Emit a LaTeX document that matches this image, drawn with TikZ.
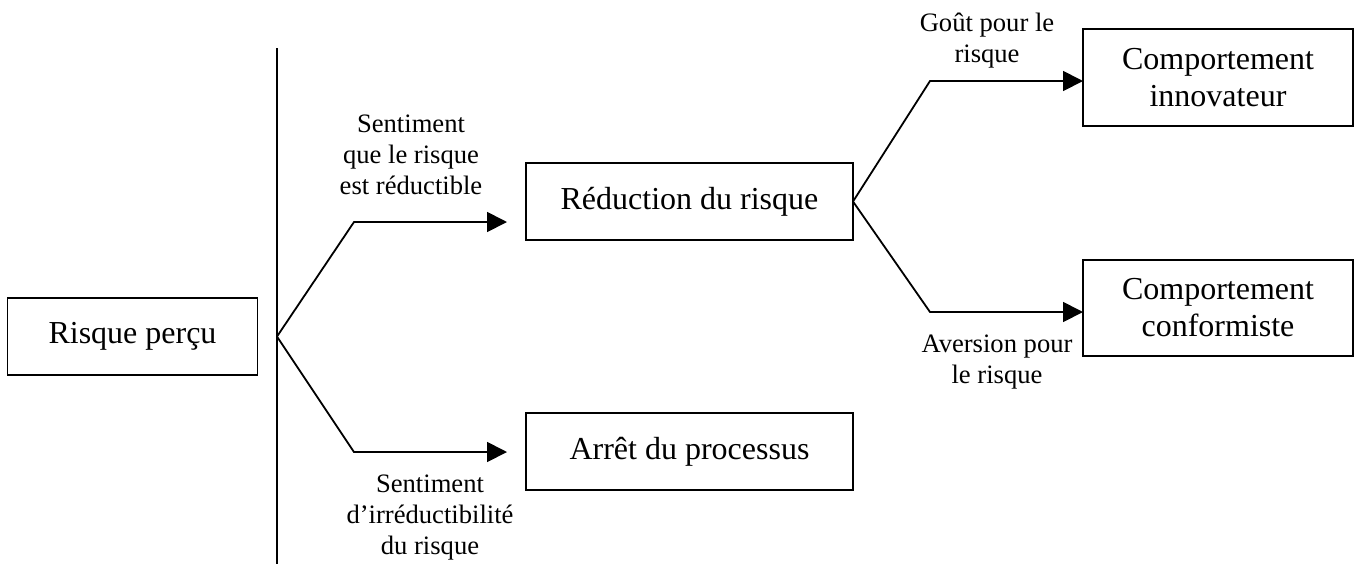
\documentclass[tikz,border=0pt]{standalone}
\usepackage{fontspec}
\setmainfont{Liberation Serif}
\usetikzlibrary{arrows.meta}

\tikzset{
  box/.style = {draw, line width=0.9pt, inner sep=0pt, outer sep=0pt, align=center,
    font=\fontsize{16}{18.5}\selectfont, minimum height=38.5pt},
  lab/.style = {align=center, font=\fontsize{13.3}{15.5}\selectfont},
  flow/.style = {line width=0.9pt, -{Triangle[length=10pt,width=10pt]}}
}

\begin{document}
\begin{tikzpicture}[x = 0.5pt, y = -0.5pt]
\useasboundingbox (0,0) rectangle (1360,564);
\node [box, minimum width=125pt] (percu) at (132.5,336.5) {Risque perçu};
\node [box, minimum width=163.5pt] (reduc) at (689.5,201.5) {Réduction du risque};
\node [box, minimum width=163.5pt] (arret) at (689.5,451.5) {Arrêt du processus};
\node [box, minimum width=135pt, minimum height=48.5pt] (innov) at (1218,77.5) {Comportement\\innovateur};
\node [box, minimum width=135pt, minimum height=48pt] (conf) at (1218,308) {Comportement\\conformiste};
\coordinate (top) at (277,48);
\coordinate (bottom) at (277,564);
\coordinate (split) at (top |- percu.east);
\coordinate (bendA) at (354,222);
\coordinate (bendB) at (354,452);
\coordinate (bendC) at (930,81);
\coordinate (bendD) at (930,312);
\draw [line width=0.9pt] (top) -- (bottom);
\draw [flow, shorten >=9.5pt] (split) -- (bendA) -- (bendA -| reduc.west);
\draw [flow, shorten >=9.5pt] (split) -- (bendB) -- (bendB -| arret.west);
\draw [flow] (reduc.east) -- (bendC) -- (bendC -| innov.west);
\draw [flow] (reduc.east) -- (bendD) -- (bendD -| conf.west);
\node [lab] (labA) at (411,155) {Sentiment\\que le risque\\est réductible};
\node [lab] (labB) at (430,518) {Sentiment\\d’irréductibilité\\du risque};
\node [lab] (labC) at (987,41) {Goût pour le\\risque};
\node [lab] (labD) at (997,362) {Aversion pour\\le risque};
\end{tikzpicture}
\end{document}
